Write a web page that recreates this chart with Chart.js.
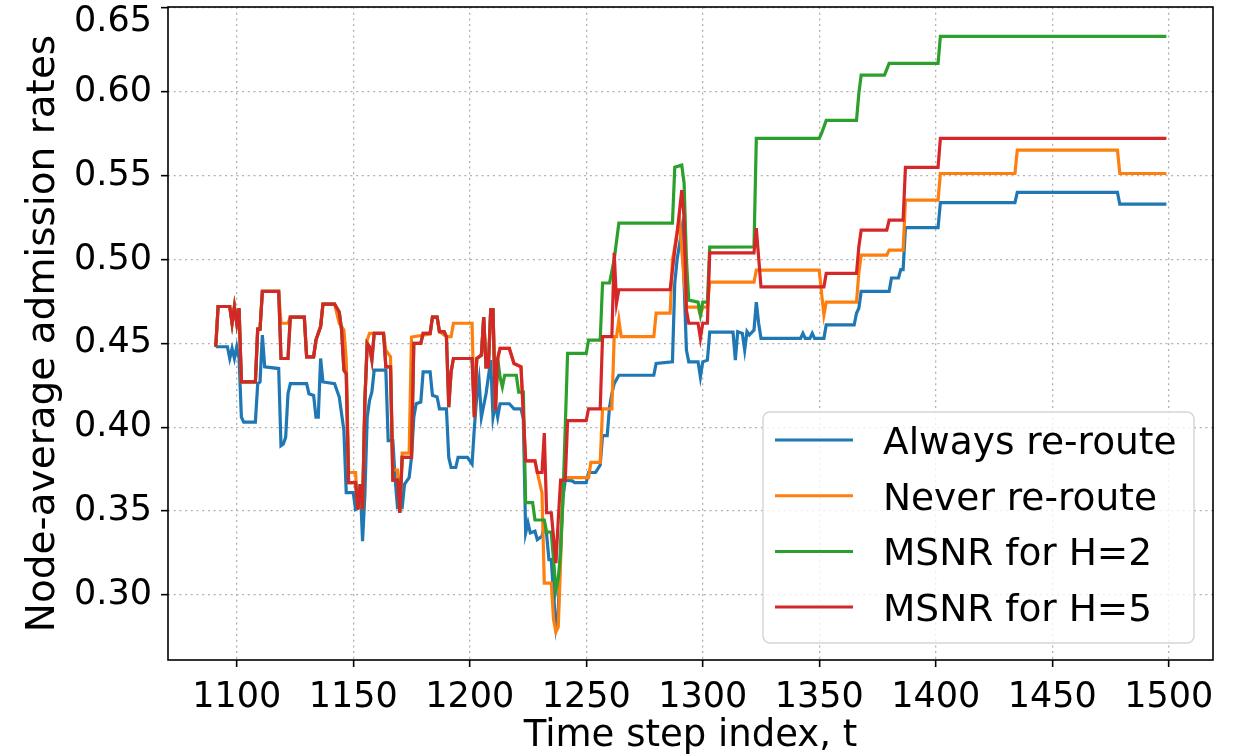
<!DOCTYPE html>
<html>
<head>
<meta charset="utf-8">
<script src="https://cdn.jsdelivr.net/npm/chart.js@4.4.0/dist/chart.umd.min.js"></script>
<style>
  html, body { margin: 0; padding: 0; background: #fff; }
  #wrap { width: 1237px; height: 755px; }
</style>
</head>
<body>
<div id="wrap"><canvas id="admissionChart" width="1237" height="755"></canvas></div>
<script>
// [time step, node-average admission rate]
const alwaysReroute = [[1091,0.448],[1096,0.448],[1097,0.441],[1098,0.447],[1099,0.441],[1100,0.448],[1101,0.441],[1102,0.406],[1103,0.403],[1108,0.403],[1109,0.426],[1110,0.427],[1111,0.455],[1112,0.436],[1118,0.435],[1119,0.389],[1120,0.390],[1121,0.394],[1122,0.420],[1123,0.426],[1130,0.426],[1131,0.420],[1133,0.419],[1134,0.406],[1135,0.406],[1136,0.441],[1137,0.427],[1142,0.426],[1144,0.418],[1146,0.398],[1147,0.361],[1150,0.361],[1151,0.351],[1152,0.352],[1153,0.366],[1154,0.332],[1155,0.360],[1156,0.406],[1157,0.416],[1158,0.421],[1159,0.434],[1164,0.434],[1165,0.392],[1167,0.392],[1168,0.369],[1169,0.352],[1171,0.352],[1172,0.366],[1173,0.368],[1174,0.370],[1175,0.382],[1176,0.406],[1177,0.414],[1179,0.415],[1180,0.433],[1183,0.433],[1184,0.419],[1186,0.418],[1187,0.411],[1190,0.411],[1191,0.382],[1192,0.376],[1194,0.376],[1195,0.382],[1199,0.382],[1201,0.378],[1202,0.400],[1203,0.418],[1204,0.428],[1205,0.406],[1207,0.420],[1209,0.440],[1210,0.406],[1211,0.414],[1212,0.406],[1213,0.414],[1217,0.414],[1219,0.411],[1222,0.411],[1223,0.405],[1224,0.337],[1225,0.343],[1226,0.337],[1228,0.338],[1229,0.333],[1231,0.335],[1232,0.341],[1233,0.336],[1234,0.321],[1235,0.321],[1236,0.300],[1237,0.281],[1238,0.290],[1239,0.330],[1240,0.358],[1241,0.3685],[1244,0.368],[1245,0.367],[1250,0.367],[1251,0.373],[1254,0.373],[1256,0.3775],[1257,0.395],[1259,0.395],[1260,0.412],[1261,0.420],[1262,0.426],[1264,0.431],[1279,0.431],[1280,0.438],[1287,0.439],[1288,0.486],[1289,0.500],[1291,0.5175],[1292,0.486],[1293,0.446],[1294,0.439],[1298,0.439],[1299,0.430],[1300,0.439],[1302,0.440],[1303,0.4567],[1313,0.4567],[1314,0.440],[1315,0.457],[1317,0.456],[1318,0.446],[1319,0.457],[1320,0.455],[1322,0.458],[1323,0.4746],[1324,0.462],[1325,0.453],[1342,0.453],[1343,0.456],[1344,0.453],[1346,0.453],[1347,0.456],[1348,0.453],[1352,0.453],[1353,0.461],[1365,0.461],[1366,0.468],[1367,0.471],[1368,0.481],[1380,0.481],[1381,0.489],[1384,0.489],[1385,0.494],[1386,0.494],[1387,0.519],[1401,0.519],[1402,0.534],[1434,0.534],[1435,0.540],[1478,0.540],[1479,0.533],[1499,0.533]];

const neverReroute = [[1091,0.448],[1092,0.472],[1097,0.472],[1098,0.462],[1099,0.472],[1100,0.462],[1101,0.471],[1102,0.427],[1108,0.427],[1109,0.4585],[1110,0.4585],[1111,0.481],[1118,0.481],[1119,0.462],[1122,0.462],[1123,0.4657],[1129,0.4657],[1130,0.442],[1133,0.442],[1134,0.452],[1135,0.456],[1136,0.460],[1137,0.4734],[1142,0.4734],[1144,0.462],[1146,0.458],[1147,0.440],[1148,0.373],[1151,0.373],[1152,0.351],[1153,0.366],[1154,0.351],[1155,0.416],[1156,0.452],[1157,0.456],[1163,0.456],[1164,0.446],[1166,0.442],[1167,0.3745],[1169,0.3745],[1170,0.349],[1171,0.3846],[1174,0.3846],[1175,0.4538],[1183,0.4555],[1184,0.4657],[1186,0.4657],[1187,0.457],[1190,0.454],[1192,0.454],[1193,0.462],[1201,0.462],[1202,0.406],[1203,0.441],[1205,0.443],[1206,0.4657],[1207,0.436],[1208,0.436],[1209,0.470],[1210,0.470],[1211,0.410],[1212,0.441],[1213,0.447],[1217,0.447],[1219,0.438],[1222,0.436],[1224,0.380],[1228,0.380],[1229,0.373],[1231,0.361],[1232,0.307],[1235,0.307],[1236,0.285],[1237,0.278],[1238,0.281],[1239,0.320],[1240,0.3685],[1241,0.370],[1251,0.370],[1252,0.379],[1256,0.379],[1257,0.411],[1261,0.411],[1262,0.454],[1263,0.454],[1264,0.464],[1265,0.454],[1279,0.454],[1280,0.468],[1286,0.468],[1287,0.4996],[1288,0.5076],[1290,0.525],[1291,0.5056],[1293,0.4716],[1298,0.4716],[1299,0.467],[1300,0.4716],[1302,0.4716],[1303,0.4865],[1322,0.4865],[1323,0.4937],[1350,0.4937],[1351,0.480],[1352,0.467],[1353,0.4746],[1366,0.4746],[1367,0.492],[1368,0.5026],[1379,0.5026],[1380,0.5056],[1386,0.5056],[1387,0.5354],[1401,0.5354],[1402,0.5513],[1434,0.5513],[1435,0.5652],[1478,0.5652],[1479,0.5513],[1499,0.5513]];

const msnrH2 = [[1091,0.448],[1092,0.472],[1097,0.472],[1098,0.462],[1099,0.472],[1100,0.462],[1101,0.471],[1102,0.427],[1108,0.427],[1109,0.4585],[1110,0.4585],[1111,0.481],[1118,0.481],[1119,0.441],[1122,0.441],[1123,0.4657],[1129,0.4657],[1130,0.442],[1133,0.442],[1134,0.452],[1135,0.456],[1136,0.460],[1137,0.4734],[1142,0.4734],[1144,0.4687],[1145,0.458],[1146,0.434],[1147,0.432],[1148,0.367],[1151,0.367],[1152,0.351],[1153,0.366],[1154,0.351],[1155,0.416],[1156,0.450],[1157,0.448],[1158,0.440],[1159,0.456],[1163,0.456],[1164,0.436],[1166,0.436],[1167,0.3685],[1169,0.3685],[1170,0.349],[1171,0.382],[1175,0.382],[1176,0.450],[1179,0.450],[1180,0.456],[1183,0.456],[1184,0.4657],[1186,0.4657],[1187,0.457],[1189,0.457],[1190,0.454],[1191,0.412],[1192,0.433],[1193,0.441],[1201,0.441],[1202,0.406],[1203,0.441],[1205,0.443],[1206,0.4657],[1207,0.436],[1208,0.436],[1209,0.470],[1210,0.470],[1211,0.410],[1212,0.441],[1213,0.430],[1214,0.424],[1215,0.431],[1220,0.431],[1221,0.421],[1223,0.421],[1224,0.355],[1227,0.355],[1228,0.3447],[1232,0.3447],[1233,0.3375],[1235,0.3375],[1237,0.303],[1238,0.310],[1239,0.325],[1240,0.357],[1241,0.400],[1242,0.444],[1250,0.444],[1251,0.452],[1256,0.452],[1257,0.486],[1260,0.486],[1262,0.500],[1264,0.5217],[1287,0.5217],[1288,0.555],[1291,0.5563],[1292,0.5455],[1293,0.500],[1294,0.4758],[1298,0.4746],[1299,0.467],[1300,0.4746],[1302,0.4746],[1303,0.5074],[1322,0.5076],[1323,0.5723],[1350,0.5723],[1351,0.5753],[1353,0.583],[1366,0.583],[1367,0.599],[1368,0.610],[1378,0.610],[1380,0.617],[1401,0.617],[1402,0.6331],[1499,0.6331]];

const msnrH5 = [[1091,0.448],[1092,0.472],[1097,0.472],[1098,0.462],[1099,0.472],[1100,0.462],[1101,0.471],[1102,0.427],[1108,0.427],[1109,0.4585],[1110,0.4585],[1111,0.481],[1118,0.481],[1119,0.441],[1122,0.441],[1123,0.4657],[1129,0.4657],[1130,0.442],[1133,0.442],[1134,0.452],[1135,0.456],[1136,0.460],[1137,0.4734],[1142,0.4734],[1144,0.4687],[1145,0.458],[1146,0.434],[1147,0.432],[1148,0.367],[1151,0.367],[1152,0.351],[1153,0.366],[1154,0.351],[1155,0.416],[1156,0.450],[1157,0.448],[1158,0.440],[1159,0.456],[1163,0.456],[1164,0.436],[1166,0.436],[1167,0.3685],[1169,0.3685],[1170,0.349],[1171,0.382],[1175,0.382],[1176,0.450],[1179,0.450],[1180,0.456],[1183,0.456],[1184,0.4657],[1186,0.4657],[1187,0.457],[1189,0.457],[1190,0.454],[1191,0.412],[1192,0.433],[1193,0.441],[1201,0.441],[1202,0.406],[1203,0.441],[1205,0.443],[1206,0.4657],[1207,0.436],[1208,0.436],[1209,0.470],[1210,0.470],[1211,0.410],[1212,0.441],[1213,0.447],[1217,0.447],[1219,0.438],[1222,0.436],[1224,0.380],[1228,0.380],[1229,0.373],[1231,0.373],[1232,0.3965],[1233,0.349],[1235,0.349],[1237,0.319],[1238,0.345],[1239,0.3685],[1241,0.3685],[1242,0.404],[1250,0.404],[1251,0.411],[1256,0.411],[1257,0.454],[1261,0.454],[1262,0.504],[1263,0.474],[1264,0.482],[1286,0.482],[1288,0.5056],[1289,0.5157],[1291,0.5414],[1292,0.525],[1293,0.470],[1294,0.462],[1298,0.462],[1299,0.453],[1300,0.462],[1302,0.462],[1303,0.504],[1322,0.504],[1323,0.5187],[1325,0.4837],[1352,0.4837],[1353,0.4917],[1366,0.4917],[1367,0.5076],[1368,0.5175],[1379,0.5175],[1380,0.5235],[1386,0.5235],[1387,0.555],[1401,0.555],[1402,0.5723],[1499,0.5723]];

const seriesLabels = ["Always re-route", "Never re-route", "MSNR for H=2", "MSNR for H=5"];
const seriesColors = ["#1f77b4", "#ff7f0e", "#2ca02c", "#d62728"];
const xTicks = [1100, 1150, 1200, 1250, 1300, 1350, 1400, 1450, 1500];
const yTicks = [0.30, 0.35, 0.40, 0.45, 0.50, 0.55, 0.60, 0.65];

const FONT = "'DejaVu Sans', sans-serif";

// black box around the plot area (all four spines)
const framePlugin = {
  id: 'frame',
  afterDatasetsDraw(chart) {
    const {ctx, chartArea: a} = chart;
    ctx.save();
    ctx.strokeStyle = '#000';
    ctx.lineWidth = 1.6;
    ctx.strokeRect(a.left, a.top, a.right - a.left, a.bottom - a.top);
    ctx.restore();
  }
};

// legend box in the lower right corner, drawn inside the axes
const boxLegend = {
  id: 'boxLegend',
  afterDraw(chart) {
    const ctx = chart.ctx;
    const x = 763, y = 412, w = 431, h = 231, r = 7;
    ctx.save();
    ctx.beginPath();
    ctx.roundRect(x, y, w, h, r);
    ctx.fillStyle = 'rgba(255,255,255,0.8)';
    ctx.fill();
    ctx.strokeStyle = '#d6d6d6';
    ctx.lineWidth = 1.5;
    ctx.stroke();
    ctx.font = '37.5px ' + FONT;
    ctx.textBaseline = 'alphabetic';
    ctx.fillStyle = '#000';
    seriesLabels.forEach((label, i) => {
      const rowY = 440 + i * 55.7;
      ctx.beginPath();
      ctx.moveTo(775, rowY);
      ctx.lineTo(853, rowY);
      ctx.strokeStyle = seriesColors[i];
      ctx.lineWidth = 3;
      ctx.stroke();
      ctx.fillText(label, 883, rowY + 14);
    });
    ctx.restore();
  }
};

const allSeries = [alwaysReroute, neverReroute, msnrH2, msnrH5];
const topTick = yTicks[yTicks.length - 1];

new Chart(document.getElementById('admissionChart'), {
  type: 'line',
  data: {
    datasets: allSeries.map((pts, i) => ({
      label: seriesLabels[i],
      data: pts.map(p => ({x: p[0], y: p[1]})),
      borderColor: seriesColors[i],
      borderWidth: 3.2,
      pointRadius: 0,
      tension: 0,
      fill: false,
      order: 4 - i
    }))
  },
  options: {
    responsive: false,
    animation: false,
    devicePixelRatio: 1,
    layout: { padding: { top: 7, right: 24, left: 0, bottom: 0 } },
    plugins: { legend: { display: false }, tooltip: { enabled: false } },
    scales: {
      x: {
        type: 'linear',
        min: 1070.5,
        max: 1519,
        afterBuildTicks: s => { s.ticks = xTicks.map(v => ({value: v})); },
        afterFit: s => { s.height = 95; s.paddingLeft = 0; s.paddingRight = 0; },
        ticks: {
          font: { family: FONT, size: 35 },
          color: '#000',
          padding: 10,
          maxRotation: 0,
          callback: v => String(v)
        },
        grid: {
          color: '#b0b0b0',
          lineWidth: 1.3,
          tickLength: 7,
          tickColor: '#000',
          tickWidth: 1.6,
          tickBorderDash: []
        },
        border: { display: false, dash: [2, 3.7] },
        title: {
          display: true,
          text: 'Time step index, t',
          font: { family: FONT, size: 37, lineHeight: 1.0 },
          color: '#000',
          padding: { top: 4, bottom: 0 }
        }
      },
      y: {
        min: 0.2612,
        max: 0.6506,
        afterBuildTicks: s => { s.ticks = yTicks.map(v => ({value: v})); },
        afterFit: s => { s.width = 168; s.paddingTop = 0; s.paddingBottom = 0; },
        ticks: {
          font: { family: FONT, size: 35, lineHeight: 0.8 },
          color: '#000',
          padding: 9,
          // keep the top label inside the canvas
          callback: v => v === topTick ? ['', v.toFixed(2)] : v.toFixed(2)
        },
        grid: {
          color: '#b0b0b0',
          lineWidth: 1.3,
          tickLength: 7,
          tickColor: '#000',
          tickWidth: 1.6,
          tickBorderDash: []
        },
        border: { display: false, dash: [2, 3.7] },
        title: {
          display: true,
          text: 'Node-average admission rates',
          font: { family: FONT, size: 39 },
          color: '#000',
          padding: { top: 20, bottom: 0 }
        }
      }
    }
  },
  plugins: [framePlugin, boxLegend]
});
</script>
</body>
</html>
